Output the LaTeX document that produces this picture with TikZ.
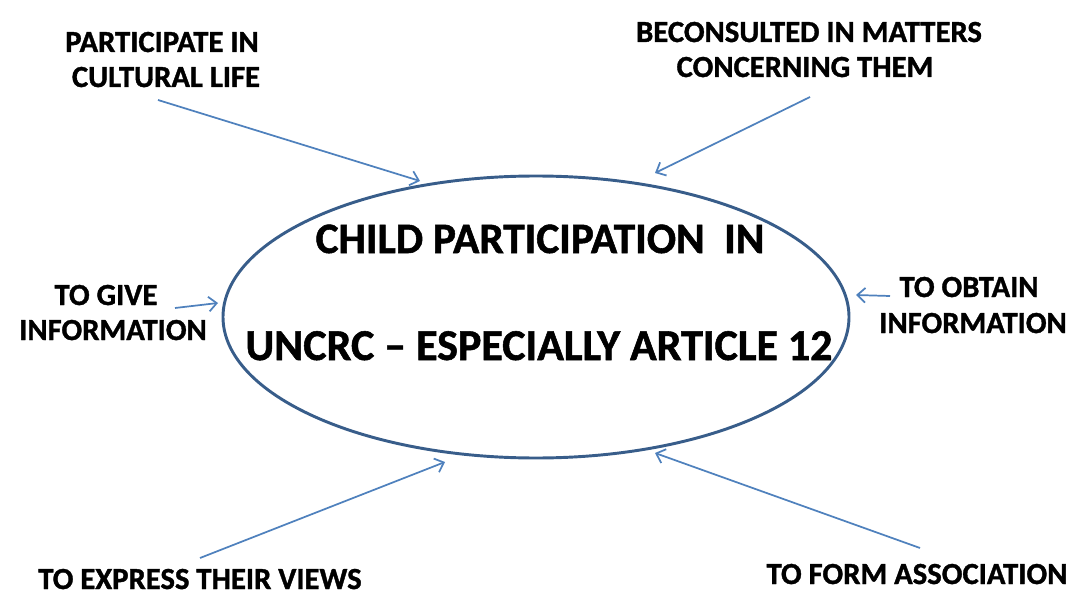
\documentclass[tikz,border=0pt]{standalone}
\usepackage{fontspec}
\setmainfont{Carlito}[BoldFeatures={FakeBold=1.2}]
\usepackage{xcolor}
\usepackage{tikz}
\usetikzlibrary{arrows.meta,shapes.geometric}
\definecolor{rim}{HTML}{385D8A}
\definecolor{ray}{HTML}{4F81BD}
\definecolor{ink}{HTML}{000000}
\tikzset{
  label/.style={font=\bfseries\fontsize{23}{26}\selectfont,color=ink,anchor=base,inner sep=0pt},
  ray/.style={color=ray,line width=1.3pt,-{Straight Barb[length=6pt,width=11pt]}}
}

\begin{document}
\begin{tikzpicture}[x=0.75pt,y=-0.75pt]
  \useasboundingbox (0,0) rectangle (1070,595);
  \node[ellipse,draw=rim,line width=2.2pt,minimum width=469.5pt,minimum height=211.5pt,inner sep=0pt] (core) at (536,317) {};
  \node[label,font=\bfseries\fontsize{32.5}{34}\selectfont] (head) at (540,253) {CHILD PARTICIPATION \ IN};
  \node[label,font=\bfseries\fontsize{33}{36}\selectfont] (sub) at (539,360) {UNCRC -- ESPECIALLY ARTICLE 12};
  % labels round the ellipse
  \node[label] (cult1) at (162,52) {PARTICIPATE IN};
  \node[label] (cult2) at (166,87) {CULTURAL LIFE};
  \node[label] (cons1) at (809,42) {BECONSULTED IN MATTERS};
  \node[label] (cons2) at (805,77) {CONCERNING THEM};
  \node[label] (give1) at (106,305) {TO GIVE};
  \node[label] (give2) at (113,340) {INFORMATION};
  \node[label] (obt1) at (969,297) {TO OBTAIN};
  \node[label] (obt2) at (973,333) {INFORMATION};
  \node[label] (views) at (200,589) {TO EXPRESS THEIR VIEWS};
  \node[label] (assoc) at (917,584) {TO FORM ASSOCIATION};
  % arrow ends
  \coordinate (a1) at (158,100);  \coordinate (b1) at (420,181);
  \coordinate (a2) at (810,97);   \coordinate (b2) at (655,173);
  \coordinate (a3) at (175,308);  \coordinate (b3) at (218,303);
  \coordinate (a4) at (890,296);  \coordinate (b4) at (856,295);
  \coordinate (a5) at (200,558);  \coordinate (b5) at (445,462);
  \coordinate (a6) at (920,548);  \coordinate (b6) at (655,453);
  \foreach \i in {1,...,6}
    \draw[ray] (a\i) -- (b\i);
\end{tikzpicture}
\end{document}
